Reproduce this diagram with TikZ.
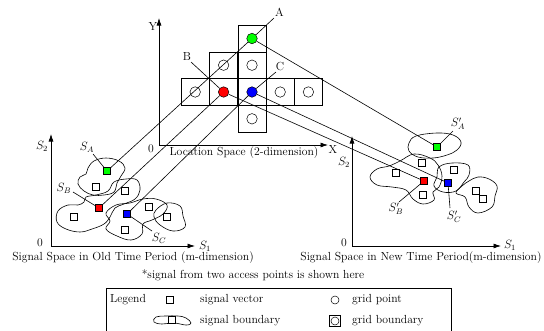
\documentclass[tikz,border=0pt]{standalone}
\usepackage{fontspec}
\usetikzlibrary{arrows.meta}
\begin{document}
\begin{tikzpicture}[x=1pt,y=-1pt,
  font=\fontsize{11.7}{14}\selectfont,
  every node/.style={inner sep=0pt},
  ln/.style={line width=0.6pt},
  axis/.style={line width=0.7pt,-{Latex[length=7.5pt,width=5pt]}},
  blob/.style={line width=0.6pt},
  sq/.style={draw,line width=0.5pt,fill=white,minimum size=7pt,inner sep=0pt},
  gp/.style={circle,draw,line width=0.5pt,fill=white,minimum size=10.5pt,inner sep=0pt},
  cell/.style={draw,line width=0.6pt,minimum width=28.2pt,minimum height=26.8pt,inner sep=0pt},
  txt/.style={inner sep=0pt}]
\useasboundingbox (0,0) rectangle (544,330);

% ---------- Location space ----------
\coordinate (yo) at (159,145);
\coordinate (ytop) at (159,18);
\coordinate (xend) at (328,145);
\draw[axis] (yo) -- (ytop);
\draw[axis] (yo) -- (xend);
\node[txt] (ylab) at (153,27) {Y};
\node[txt] (xlab) at (333,150) {X};
\node[txt] (lzero) at (151,149) {0};
\node[txt] (ltitle) at (244,153) {Location Space (2-dimension)};

% grid cells
\node[cell] (c1) at (252,38.5) {};
\node[cell] (c2) at (223.6,65.2) {};
\node[cell] (c3) at (252,65.2) {};
\node[cell] (c4) at (195.2,92) {};
\node[cell] (c5) at (223.6,92) {};
\node[cell] (c6) at (252,92) {};
\node[cell] (c7) at (280.2,92) {};
\node[cell] (c8) at (308.4,92) {};
\node[cell] (c9) at (252,118.8) {};

% grid points
\node[gp,fill=green] (gA) at (c1) {};
\node[gp] (g2) at (c2) {};
\node[gp] (g3) at (c3) {};
\node[gp] (g4) at (c4) {};
\node[gp,fill=red] (gB) at (c5) {};
\node[gp,fill=blue] (gC) at (c6) {};
\node[gp] (g7) at (c7) {};
\node[gp] (g8) at (c8) {};
\node[gp] (g9) at (c9) {};

\node[txt] (labA) at (279.5,12) {A};
\node[txt] (labB) at (187,57) {B};
\node[txt] (labC) at (280,67) {C};
\coordinate (aEnd) at (274,18);
\coordinate (bEnd) at (191,62);
\coordinate (cEnd) at (276,72);

% ---------- Old signal space ----------
\coordinate (oo) at (51,246);
\draw[axis] (oo) -- (51,134);
\draw[axis] (oo) -- (195,246);
\node[txt] (os2) at (42,146) {$S_2$};
\node[txt] (os1) at (205,246) {$S_1$};
\node[txt] (ozero) at (40,243) {0};
\node[txt] (otitle) at (133,258) {Signal Space in Old Time Period (m-dimension)};

\draw[blob] plot[smooth cycle,tension=0.65] coordinates {(88,168) (94,161) (106,158) (119,161) (125,168) (121,176) (117,183) (114,192) (104,195) (93,195) (84,191) (78,184) (80,177) (86,174)};
\draw[blob] plot[smooth cycle,tension=0.65] coordinates {(86,197) (96,195) (108,191) (114,182) (126,179) (137,180) (140,190) (135,199) (124,204) (115,208) (110,217) (104,224) (92,229) (80,232) (66,229) (57,222) (58,211) (68,205) (78,205) (84,202)};
\draw[blob] plot[smooth cycle,tension=0.65] coordinates {(106,213) (116,205) (130,203) (143,199) (156,199) (167,205) (163,214) (152,220) (143,224) (142,234) (131,240) (117,236) (106,229) (110,221)};
\draw[blob] plot[smooth cycle,tension=0.65] coordinates {(156,210) (167,203) (180,206) (183,216) (185,227) (173,231) (160,225) (154,217)};

\node[sq,fill=green] (oA) at (107,171) {};
\node[sq] (o2) at (96,187) {};
\node[sq] (o3) at (125,191) {};
\node[sq,fill=red] (oB) at (99,208) {};
\node[sq] (o5) at (74,217) {};
\node[sq,fill=blue] (oC) at (127,214) {};
\node[sq] (o7) at (149,207) {};
\node[sq] (o8) at (167,217) {};
\node[sq] (o9) at (125,230) {};

\node[txt] (sA) at (87,147) {$S_A$};
\node[txt] (sB) at (64,188) {$S_B$};
\node[txt] (sC) at (159,238) {$S_C$};
\coordinate (sAe) at (93,154);
\coordinate (sBe) at (73,192);
\coordinate (sCe) at (152,231);
\draw[ln] (sAe) -- (oA);
\draw[ln] (sBe) -- (oB);
\draw[ln] (sCe) -- (oC);

% ---------- New signal space ----------
\coordinate (no) at (352,246);
\draw[axis] (no) -- (352,136);
\draw[axis] (no) -- (501,246);
\node[txt] (ns2) at (344,162) {$S_2$};
\node[txt] (ns1) at (510,245) {$S_1$};
\node[txt] (nzero) at (344,243) {0};
\node[txt] (ntitle) at (421,258) {Signal Space in New Time Period(m-dimension)};

\draw[blob] plot[smooth cycle,tension=0.65] coordinates {(409,143) (416,136) (437,133) (453,135) (461,142) (457,150) (447,155) (433,158) (418,157) (409,151)};
\draw[blob] plot[smooth cycle,tension=0.65] coordinates {(400,161) (414,154) (430,158) (438,165) (442,176) (439,187) (433,192) (434,200) (423,204) (413,199) (406,190) (392,187) (377,185) (370,177) (377,169) (389,166)};
\draw[blob] plot[smooth cycle,tension=0.65] coordinates {(439,167) (452,163) (468,165) (469,175) (464,182) (456,191) (443,192) (434,186) (437,177)};
\draw[blob] plot[smooth cycle,tension=0.65] coordinates {(469,181) (478,177) (489,179) (497,186) (495,196) (492,207) (478,213) (469,207) (465,197) (456,193) (462,186)};

\node[sq,fill=green] (nA) at (437,147) {};
\node[sq] (n2) at (422,163) {};
\node[sq] (n3) at (396,173) {};
\node[sq] (n4) at (454,170) {};
\node[sq,fill=red] (nB) at (424,181) {};
\node[sq,fill=blue] (nC) at (448,183) {};
\node[sq] (n7) at (423,195) {};
\node[sq] (n8) at (476,191) {};
\node[sq] (n9) at (483,199) {};

\node[txt] (spA) at (458,124) {$S'_A$};
\node[txt] (spB) at (396,209) {$S'_B$};
\node[txt] (spC) at (454,217) {$S'_C$};
\coordinate (spAe) at (453,131);
\coordinate (spBe) at (399,202);
\coordinate (spCe) at (450,208);
\draw[ln] (spAe) -- (nA);
\draw[ln] (spBe) -- (nB);
\draw[ln] (spCe) -- (nC);

% ---------- connectors ----------
\draw[ln] (oA) -- (gA);
\draw[ln] (gA) -- (aEnd);
\draw[ln] (oB) -- (gB);
\draw[ln] (bEnd) -- (gB);
\draw[ln] (oC) -- (gC);
\draw[ln] (cEnd) -- (gC);
\draw[ln] (gA) -- (nA);
\draw[ln] (gB) -- (nB);
\draw[ln] (gC) -- (nC);

% ---------- footnote ----------
\node[txt] (foot) at (253,275) {*signal from two access points is shown here};

% ---------- legend ----------
\coordinate (lgTL) at (106,288);
\coordinate (lgTR) at (451,288);
\draw[line width=0.7pt] (106,331) -- (lgTL) -- (lgTR) -- (451,331);
\node[txt] (lgTitle) at (128,300) {Legend};
\node[sq] (lgSq) at (170,300) {};
\node[txt,anchor=west] (lgSv) at (200,300) {signal vector};
\node[gp,minimum size=8pt] (lgGp) at (335,300) {};
\node[txt,anchor=west] (lgGpT) at (352,300) {grid point};
\draw[blob] plot[smooth cycle,tension=0.7] coordinates {(156,317) (166,316) (178,316) (186,318) (191,323) (186,325) (174,323) (162,324) (154,322)};
\node[sq] (lgBsq) at (172,320) {};
\node[txt,anchor=west] (lgSb) at (200,321) {signal boundary};
\node[draw,line width=0.6pt,minimum size=11pt] (lgCell) at (335,321) {};
\node[gp,minimum size=8pt] (lgCellP) at (lgCell) {};
\node[txt,anchor=west] (lgGb) at (352,321) {grid boundary};
\end{tikzpicture}
\end{document}
